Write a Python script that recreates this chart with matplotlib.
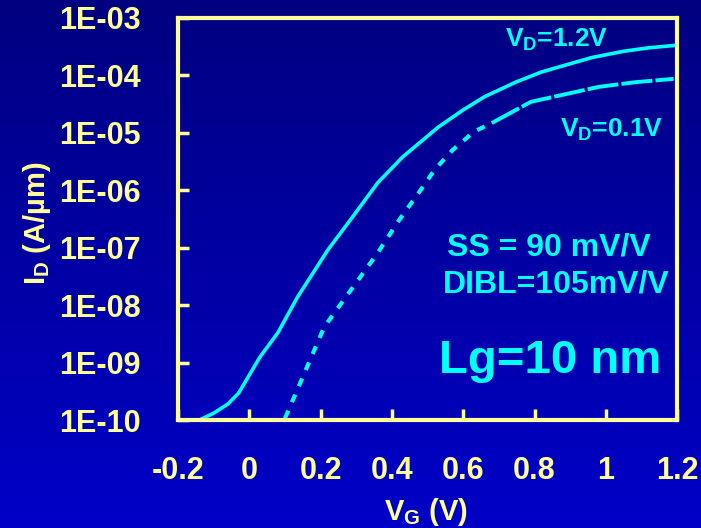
import matplotlib
matplotlib.use('Agg')
import matplotlib.pyplot as plt
import numpy as np

# I_D - V_G data (log10 of current in A/um)
vg_hi = [-0.14, -0.10, -0.06, -0.03, 0.03, 0.08, 0.135, 0.22, 0.29, 0.36, 0.43,
         0.53, 0.60, 0.66, 0.75, 0.82, 0.96, 1.05, 1.12, 1.19]
logid_hi = [-10.0, -9.88, -9.72, -9.53, -8.90, -8.48, -7.86, -7.04, -6.46, -5.87, -5.42,
            -4.90, -4.60, -4.37, -4.11, -3.94, -3.69, -3.58, -3.52, -3.48]

vg_lo = [0.10, 0.21, 0.36, 0.42, 0.48, 0.52, 0.57, 0.63, 0.68, 0.76,
         0.79, 0.98, 1.08, 1.19]
logid_lo = [-9.97, -8.38, -7.09, -6.52, -6.00, -5.64, -5.30, -4.98, -4.83, -4.56,
            -4.46, -4.20, -4.12, -4.06]
n_dashed = 9  # first points drawn dashed, the rest nearly continuous

xticks = [-0.2, 0, 0.2, 0.4, 0.6, 0.8, 1.0, 1.2]
xticklabels = ['-0.2', '0', '0.2', '0.4', '0.6', '0.8', '1', '1.2']
yticks = [1e-10, 1e-9, 1e-8, 1e-7, 1e-6, 1e-5, 1e-4, 1e-3]
yticklabels = ['1E-10', '1E-09', '1E-08', '1E-07', '1E-06', '1E-05', '1E-04', '1E-03']

plt.rcParams['font.family'] = ['Liberation Sans', 'DejaVu Sans']
plt.rcParams['font.weight'] = 'bold'
plt.rcParams['mathtext.fontset'] = 'custom'
plt.rcParams['mathtext.rm'] = 'Liberation Sans:bold'
plt.rcParams['mathtext.it'] = 'Liberation Sans:bold'
plt.rcParams['mathtext.bf'] = 'Liberation Sans:bold'

yellow = '#ffff99'
cyan = '#00ffff'

fig = plt.figure(figsize=(7.01, 5.28), dpi=100)

# gradient background
bg = fig.add_axes([0, 0, 1, 1], zorder=0)
grad = np.linspace(0, 1, 256).reshape(-1, 1)
cmap = matplotlib.colors.LinearSegmentedColormap.from_list('bg', ['#000080', '#0000c8'])
bg.imshow(grad, aspect='auto', cmap=cmap, extent=[0, 1, 0, 1])
bg.axis('off')

ax = fig.add_axes([0.254, 0.2045, 0.712, 0.7615], zorder=1)
ax.set_facecolor('none')

x_hi = np.array(vg_hi)
y_hi = 10 ** np.array(logid_hi)
x_lo = np.array(vg_lo)
y_lo = 10 ** np.array(logid_lo)

ax.plot(x_hi, y_hi, color=cyan, lw=2.6)
ax.plot(x_lo[:n_dashed], y_lo[:n_dashed], color=cyan, lw=3, dashes=(2, 2.2))
ax.plot(x_lo[n_dashed - 1:], y_lo[n_dashed - 1:], color=cyan, lw=2.8, dashes=(8, 0.8))

ax.set_yscale('log')
ax.set_xlim(-0.2, 1.2)
ax.set_ylim(1e-10, 1e-3)
ax.set_xticks(xticks)
ax.set_xticklabels(xticklabels)
ax.set_yticks(yticks)
ax.set_yticklabels(yticklabels)
ax.minorticks_off()

for s in ax.spines.values():
    s.set_color(yellow)
    s.set_linewidth(3)
ax.tick_params(axis='both', direction='in', colors=yellow, length=8, width=2.5,
               labelsize=22, labelcolor=yellow)
ax.tick_params(axis='y', pad=27)
ax.tick_params(axis='x', pad=26)

fig.text(0.053, 0.578, r'I$_\mathrm{D}$ (A/µm)', rotation=90, color=yellow,
         fontsize=21, fontweight='bold', ha='center', va='center')
fig.text(0.607, 0.03, r'V$_\mathrm{G}$ (V)', color=yellow,
         fontsize=21, fontweight='bold', ha='center', va='center')

ax.text(0.759, 0.945, r'V$_\mathrm{D}$=1.2V', transform=ax.transAxes, color=cyan,
        fontsize=19, fontweight='bold', ha='center', va='center')
ax.text(0.868, 0.721, r'V$_\mathrm{D}$=0.1V', transform=ax.transAxes, color=cyan,
        fontsize=19, fontweight='bold', ha='center', va='center')
ax.text(0.948, 0.428, 'SS = 90 mV/V', transform=ax.transAxes, color=cyan,
        fontsize=23, fontweight='bold', ha='right', va='center')
ax.text(0.984, 0.336, 'DIBL=105mV/V', transform=ax.transAxes, color=cyan,
        fontsize=23, fontweight='bold', ha='right', va='center')
ax.text(0.968, 0.148, 'Lg=10 nm', transform=ax.transAxes, color=cyan,
        fontsize=34, fontweight='bold', ha='right', va='center')

fig.savefig('out.png', dpi=100)
